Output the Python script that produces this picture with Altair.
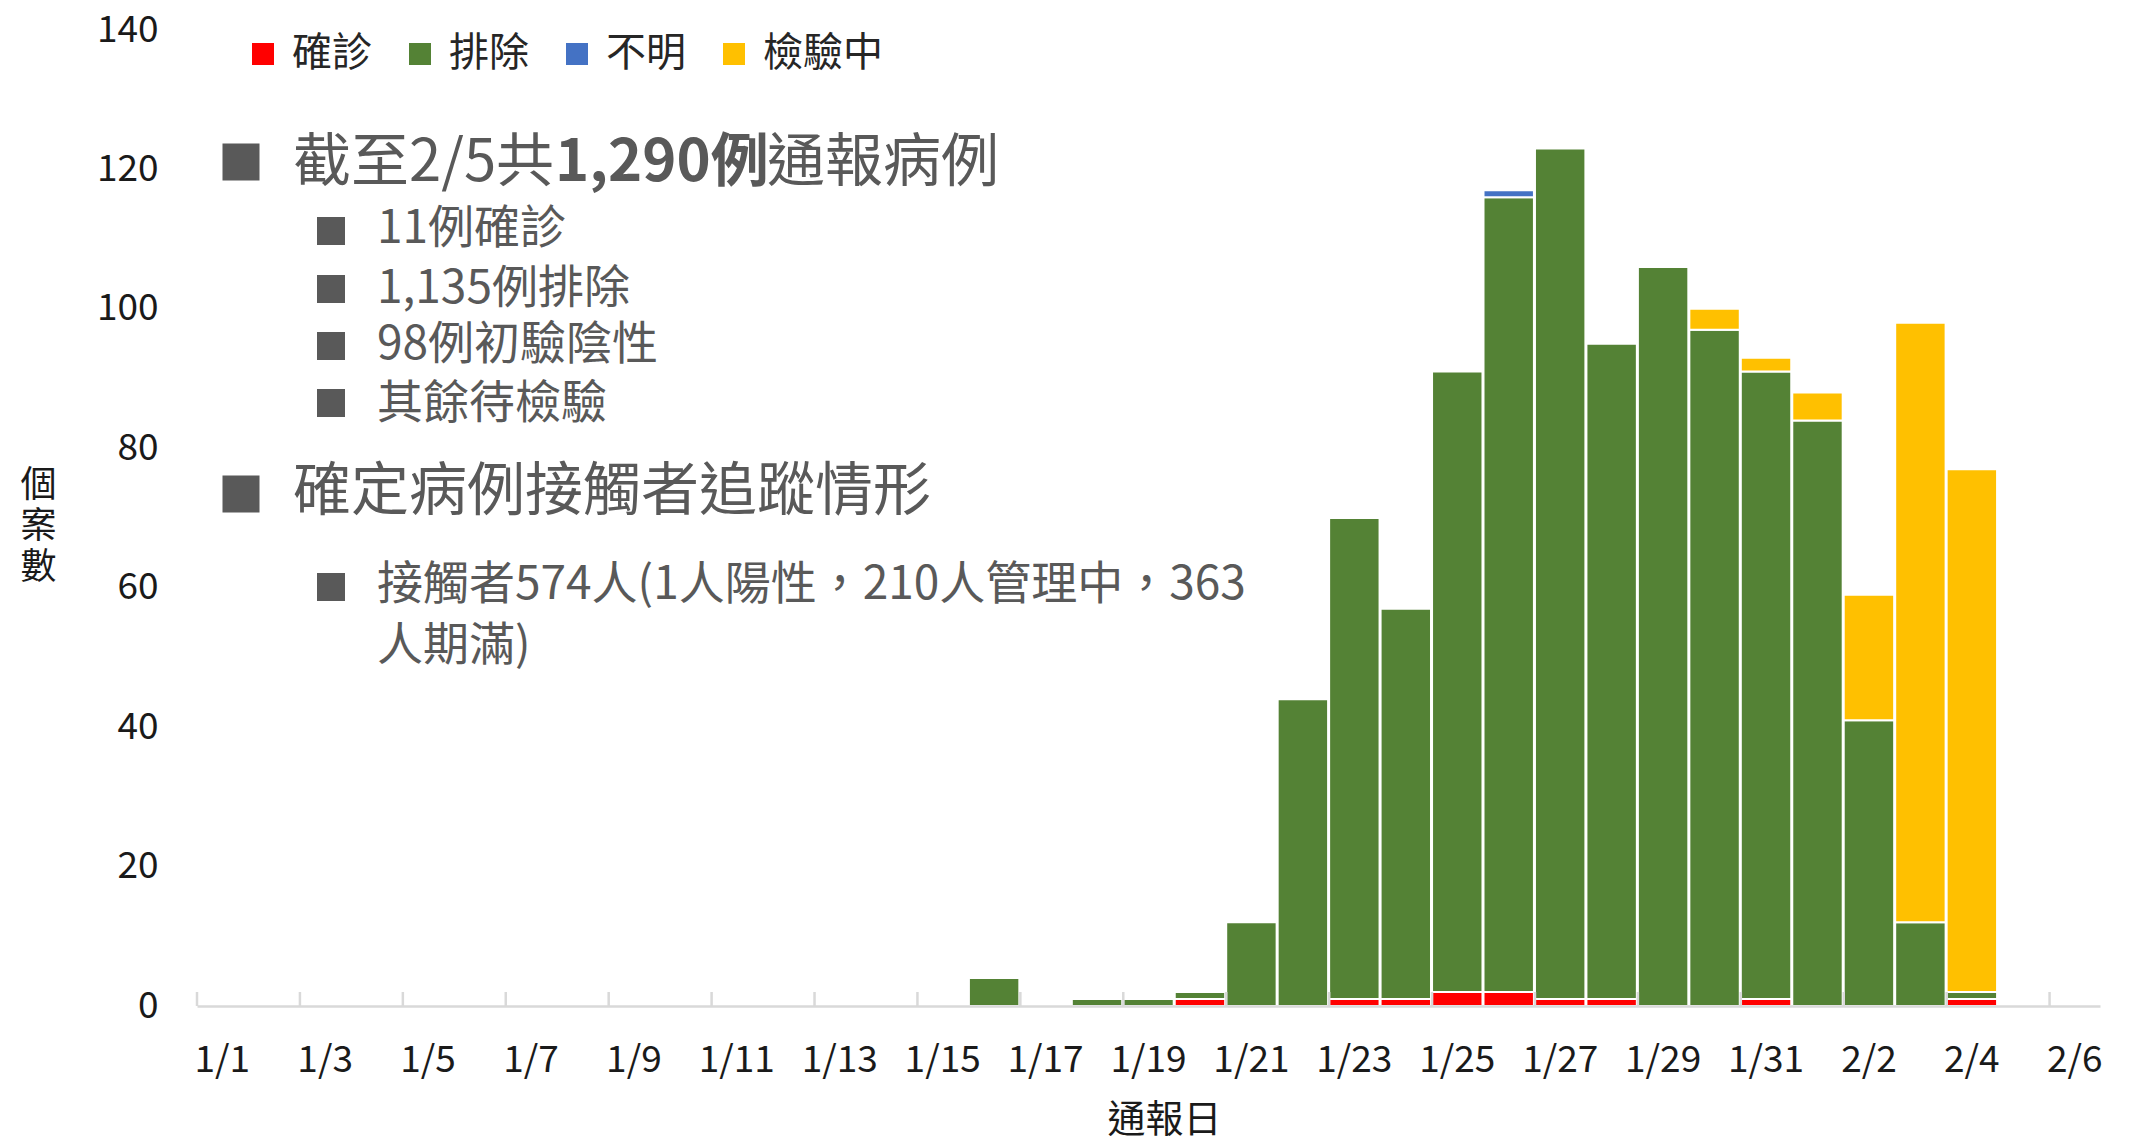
import altair as alt
import pandas as pd

FONT = "Noto Sans CJK TC"
GRAY = "#595959"
INK = "#1a1a1a"

days = ["1/1", "1/2", "1/3", "1/4", "1/5", "1/6", "1/7", "1/8", "1/9", "1/10",
        "1/11", "1/12", "1/13", "1/14", "1/15", "1/16", "1/17", "1/18", "1/19", "1/20",
        "1/21", "1/22", "1/23", "1/24", "1/25", "1/26", "1/27", "1/28", "1/29", "1/30",
        "1/31", "2/1", "2/2", "2/3", "2/4", "2/5", "2/6"]
label_days = ["1/1", "1/3", "1/5", "1/7", "1/9", "1/11", "1/13", "1/15", "1/17", "1/19",
              "1/21", "1/23", "1/25", "1/27", "1/29", "1/31", "2/2", "2/4", "2/6"]

series_names = ["確診", "排除", "不明", "檢驗中"]
series_colors = ["#FF0000", "#548235", "#4472C4", "#FFC000"]

confirmed = [0, 0, 0, 0, 0, 0, 0, 0, 0, 0,
             0, 0, 0, 0, 0, 0, 0, 0, 0, 1,
             0, 0, 1, 1, 2, 2, 1, 1, 0, 0,
             1, 0, 0, 0, 1, 0, 0]
excluded = [0, 0, 0, 0, 0, 0, 0, 0, 0, 0,
            0, 0, 0, 0, 0, 4, 0, 1, 1, 1,
            12, 44, 69, 56, 89, 114, 122, 94, 106, 97,
            90, 84, 41, 12, 1, 0, 0]
unknown = [0, 0, 0, 0, 0, 0, 0, 0, 0, 0,
           0, 0, 0, 0, 0, 0, 0, 0, 0, 0,
           0, 0, 0, 0, 0, 1, 0, 0, 0, 0,
           0, 0, 0, 0, 0, 0, 0]
testing = [0, 0, 0, 0, 0, 0, 0, 0, 0, 0,
           0, 0, 0, 0, 0, 0, 0, 0, 0, 0,
           0, 0, 0, 0, 0, 0, 0, 0, 0, 3,
           2, 4, 18, 86, 75, 0, 0]

y_ticks = [0, 20, 40, 60, 80, 100, 120, 140]

note_head1 = ["截至2/5共", "1,290例", "通報病例"]
note_sub1 = ["11例確診", "1,135例排除", "98例初驗陰性", "其餘待檢驗"]
note_head2 = "確定病例接觸者追蹤情形"
note_sub2 = ["接觸者574人(1人陽性，210人管理中，363", "人期滿)"]

rows = []
for i, d in enumerate(days):
    for k, (name, vals) in enumerate(zip(series_names, [confirmed, excluded, unknown, testing])):
        if vals[i] > 0:
            rows.append({"day": d, "series": name, "value": vals[i], "order": k})
df = pd.DataFrame(rows)

W, H = 1903, 976
x_scale = alt.Scale(domain=days, paddingInner=0.02, paddingOuter=0)
x_axis = alt.Axis(values=label_days, title="通報日", labelAngle=0,
                  labelFontSize=37, labelColor=INK, labelFont=FONT,
                  labelPadding=36, ticks=False, tickSize=0,
                  domainColor="#d9d9d9", domainWidth=2.5, grid=False,
                  titleFontSize=38, titleFontWeight="normal", titleColor=INK,
                  titleFont=FONT, titleX=967, titleY=114,
                  titleBaseline="middle", titleAlign="center", zindex=1)

bars = alt.Chart(df).mark_bar(stroke="white", strokeWidth=2).encode(
    x=alt.X("day:O", scale=x_scale, sort=days, axis=x_axis),
    y=alt.Y("value:Q", stack="zero", scale=alt.Scale(domain=[0, 140], nice=False),
            axis=alt.Axis(values=y_ticks, title=["個", "案", "數"], domain=False,
                          ticks=False, tickSize=0, grid=False, labelFontSize=37,
                          labelColor=INK, labelFont=FONT, labelPadding=39,
                          titleAngle=0, titleX=-159, titleY=455, titleAlign="center",
                          titleBaseline="middle", titleFontSize=36, titleLineHeight=41,
                          titleFontWeight="normal", titleColor=INK, titleFont=FONT)),
    color=alt.Color("series:N", scale=alt.Scale(domain=series_names, range=series_colors),
                    legend=alt.Legend(title=None, orient="none", legendX=46, legendY=4,
                                      direction="horizontal", columns=4,
                                      symbolType="square", symbolSize=484,
                                      symbolStrokeWidth=0, symbolOpacity=1,
                                      labelFontSize=40, labelFont=FONT, labelColor="#262626",
                                      labelOffset=9, columnPadding=28, padding=0,
                                      labelLimit=0)),
    order=alt.Order("order:Q"),
)

ticks = alt.Chart(pd.DataFrame({"day": label_days})).mark_rule(
    color="#d9d9d9", strokeWidth=2.5).encode(
    x=alt.X("day:O", scale=x_scale, sort=days, bandPosition=0, axis=x_axis),
    y=alt.value(H - 14), y2=alt.value(H),
)

one = pd.DataFrame({"t": [""]})


def text(s, x, y, size, weight="normal"):
    return alt.Chart(pd.DataFrame({"t": [s]})).mark_text(
        align="left", baseline="middle", fontSize=size, fontWeight=weight,
        color=GRAY, font=FONT).encode(x=alt.value(x), y=alt.value(y), text="t:N")


def bullet(x, y, side):
    return alt.Chart(one).mark_square(size=side * side, color=GRAY, opacity=1,
                                      filled=True).encode(x=alt.value(x), y=alt.value(y))


notes = [
    bullet(44, 132, 37),
    text(note_head1[0], 96, 134, 58),
    text(note_head1[1], 358, 134, 58, "bold"),
    text(note_head1[2], 570, 134, 58),
    bullet(134, 201, 28), text(note_sub1[0], 180, 199, 46),
    bullet(134, 259, 28), text(note_sub1[1], 180, 259, 46),
    bullet(134, 316, 28), text(note_sub1[2], 180, 315, 46),
    bullet(134, 373, 28), text(note_sub1[3], 180, 374, 46),
    bullet(44, 464, 37),
    text(note_head2, 96, 463, 58),
    bullet(134, 557, 28),
    text(note_sub2[0], 180, 555, 46),
    text(note_sub2[1], 180, 616, 46),
]

chart = alt.layer(bars, ticks, *notes).properties(
    width=W, height=H,
    padding={"left": 189, "top": 22, "right": 36, "bottom": 130},
    autosize=alt.AutoSizeParams(type="none"),
).configure(font=FONT).configure_view(stroke=None)

chart.save("out.html", embed_options={"renderer": "svg", "actions": False})
